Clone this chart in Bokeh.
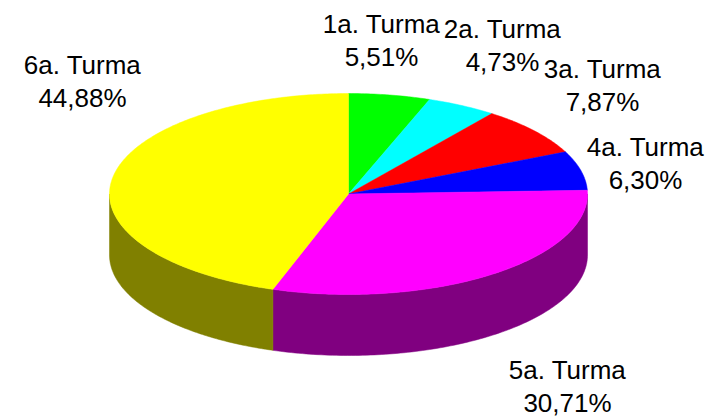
import numpy as np
from bokeh.plotting import figure
from bokeh.models import Range1d, ColumnDataSource
from bokeh.core.properties import value
from bokeh.embed import file_html
from bokeh.resources import INLINE

# ---- data ----
categories = ["1a. Turma", "2a. Turma", "3a. Turma", "4a. Turma", "5a. Turma", "6a. Turma"]
percents = [5.51, 4.73, 7.87, 6.30, 30.71, 44.88]
pct_labels = ["5,51%", "4,73%", "7,87%", "6,30%", "30,71%", "44,88%"]

# ---- styles / layout ----
top_colors = ["#00FF00", "#00FFFF", "#FF0000", "#0000FF", "#FF00FF", "#FFFF00"]
side_colors = ["#008000", "#008080", "#800000", "#000080", "#800080", "#808000"]
CX, CY, RX, RY, DEPTH = 348.0, 193.5, 239.0, 100.5, 61.0
label_x = [381, 502, 602, 645, 567, 82]
label_y = [23, 28, 68, 146, 369, 64]
LINE_GAP = 33
FONT = "Liberation Sans"
FONT_SIZE = "26px"

W, H = 724, 418
p = figure(width=W, height=H, output_backend="svg", toolbar_location=None,
           x_range=Range1d(0, W), y_range=Range1d(H, 0),
           x_axis_location=None, y_axis_location=None, min_border=0)
p.grid.visible = False
p.outline_line_color = None
p.background_fill_color = "white"
p.border_fill_color = "white"

vals = np.array(percents, dtype=float)
cum = np.concatenate([[0.0], np.cumsum(vals)]) / vals.sum() * 2 * np.pi
starts, ends = cum[:-1], cum[1:]

def ex(t):
    return CX + RX * np.sin(t)

def ey(t):
    return CY - RY * np.cos(t)

# side walls (front half: angle between pi/2 and 3pi/2)
side_xs, side_ys, side_c = [], [], []
for a, b, c in zip(starts, ends, side_colors):
    lo, hi = max(a, np.pi / 2), min(b, 3 * np.pi / 2)
    if hi > lo:
        t = np.linspace(lo, hi, 120)
        xs = np.concatenate([ex(t), ex(t[::-1])])
        ys = np.concatenate([ey(t), ey(t[::-1]) + DEPTH])
        side_xs.append(list(xs)); side_ys.append(list(ys)); side_c.append(c)
p.patches(side_xs, side_ys, fill_color=side_c, line_color=side_c, line_width=0.5)

# top slices
top_xs, top_ys = [], []
for a, b in zip(starts, ends):
    t = np.linspace(a, b, max(4, int((b - a) * 80)))
    top_xs.append([CX] + list(ex(t)))
    top_ys.append([CY] + list(ey(t)))
p.patches(top_xs, top_ys, fill_color=top_colors, line_color=top_colors, line_width=0.5)

# labels
src1 = ColumnDataSource(dict(x=label_x, y=label_y, t=categories))
src2 = ColumnDataSource(dict(x=label_x, y=[v + LINE_GAP for v in label_y], t=pct_labels))
for s in (src1, src2):
    p.text(x="x", y="y", text="t", source=s, text_font=value(FONT),
           text_font_size=FONT_SIZE, text_align="center",
           text_baseline="alphabetic", text_color="black")

open("out.html", "w").write(file_html(p, INLINE))
